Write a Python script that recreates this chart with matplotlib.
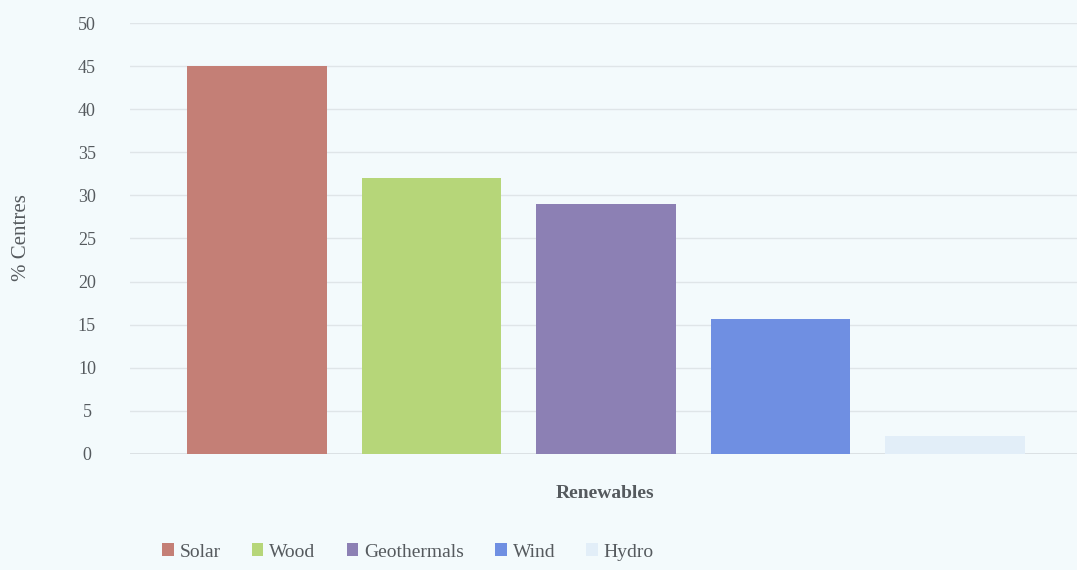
import matplotlib.pyplot as plt
import numpy as np

# Share of centres using each renewable source
sources = ["Solar", "Wood", "Geothermals", "Wind", "Hydro"]
percent = [45, 32, 29, 15.7, 2.1]
colors = ["#c47f76", "#b6d679", "#8c80b4", "#6f8fe2", "#e2eef8"]
y_ticks = [0, 5, 10, 15, 20, 25, 30, 35, 40, 45, 50]

bg = "#f3fafc"
text_col = "#555a5e"
plt.rcParams["font.family"] = ["Liberation Serif", "DejaVu Serif"]

fig = plt.figure(figsize=(10.77, 5.70), dpi=100, facecolor=bg)
ax = fig.add_axes([130 / 1077, 1 - 454 / 570, 1 - 130 / 1077, (454 - 23) / 570])
ax.set_facecolor(bg)

x = np.arange(len(sources))
for xi, name, val, c in zip(x, sources, percent, colors):
    ax.bar(xi, val, width=0.8, color=c, label=name, zorder=3)

ax.set_xlim(-0.728, 4.699)
ax.set_ylim(0, 50)
ax.set_yticks(y_ticks)
ax.set_xticks([])
ax.grid(axis="y", color="#dfe5e8", linewidth=1.0, zorder=0)
for s in ax.spines.values():
    s.set_visible(False)
ax.axhline(0, color="#d8dee1", linewidth=1.2, zorder=2)
ax.tick_params(axis="y", length=0, pad=31, labelsize=13, labelcolor=text_col)
for lbl in ax.get_yticklabels():
    lbl.set_horizontalalignment("center")

fig.text(22 / 1077, 1 - 238 / 570, "% Centres", rotation=90, ha="center", va="center",
         fontsize=15, color=text_col)
fig.text(605 / 1077, 1 - 493 / 570, "Renewables", ha="center", va="center",
         fontsize=14, color=text_col, fontweight="bold")

leg = fig.legend(loc="center", bbox_to_anchor=(408 / 1077, 1 - 552 / 570), ncol=5,
                 frameon=False, fontsize=14, handlelength=0.6, handleheight=0.6,
                 handletextpad=0.3, columnspacing=1.6)
for t in leg.get_texts():
    t.set_color(text_col)

fig.savefig("out.png", dpi=100, facecolor=bg)
